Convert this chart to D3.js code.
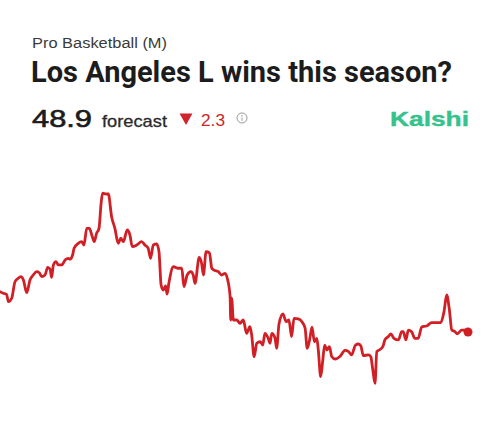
<!DOCTYPE html>
<html>
<head>
<meta charset="utf-8">
<script src="https://cdn.jsdelivr.net/npm/d3@7"></script>
<style>
	body { margin: 0; background: #fff; }
	svg { display: block; }
</style>
</head>
<body>
<svg></svg>
<script>
// forecast history (day index, forecast wins)
var days = [0, 1.1, 2.2, 2.8, 3.9, 5, 6.1, 6.9, 7.8, 8.9, 10, 11.1, 12.2, 13.1, 13.9, 15, 15.9, 16.7, 17.2, 17.8,
	18.7, 19.4, 20.6, 21.7, 22.8, 23.3, 24.2, 24.7, 26.1, 27.2, 28, 28.9, 29.8, 30.6, 31.4, 32.2, 33, 33.7, 34.2, 35.3,
	36.1, 37.2, 38.3, 39.4, 40.3, 41.1, 42.4, 43.3, 44.1, 45.6, 47.2, 48.3, 49.4, 50.2, 51.1, 52.2, 53, 53.7, 54.4, 55.2,
	55.7, 56.3, 57.8, 59.4, 60.6, 61.3, 62.4, 63.6, 64.4, 65, 66.4, 67.2, 67.8, 68.7, 69.8, 70.6, 71.3, 72.8, 73.9, 75,
	75.9, 76.7, 76.9, 77.2, 77.8, 78.9, 80, 81.1, 82.2, 83.3, 83.9, 84.7, 85.6, 86.7, 87.6, 88.3, 89.4, 90, 90.6, 91.7,
	92.2, 93, 94.3, 95.4, 96.3, 97.2, 98, 99.4, 100.7, 101.7, 102.4, 103.2, 104, 104.8, 105.6, 106.1, 106.9, 107.6, 108.2, 109,
	109.8, 110.6, 111.7, 113.3, 115, 116.2, 117.2, 118.5, 119.5, 120.3, 121.1, 122.8, 123.6, 124.2, 125, 125.6, 126.4, 127.6, 128.3, 129.4,
	130.3, 131.3, 132.8, 133.9, 134.4, 135.3, 136.1, 137.2, 138.3, 139.4, 140.6, 142.2, 143.9, 145.6, 146.9, 148, 148.9, 149.8, 150.6, 151.7,
	152.4, 153.9, 155, 156];
var forecast = [51.59, 51.48, 51.41, 50.92, 51.15, 52.25, 52.48, 52.59, 52.37, 51.52, 52.37, 52.70, 52.92, 52.85, 52.59, 52.70, 53.21, 53.08, 52.55, 53.37,
	53.59, 53.37, 53.37, 53.70, 53.81, 53.75, 54.03, 54.48, 54.81, 54.92, 54.70, 55.81, 55.81, 55.37, 54.92, 55.48, 55.81, 57.48, 58.15, 58.10,
	58.10, 56.59, 55.81, 54.81, 55.15, 54.92, 55.70, 55.37, 54.59, 54.70, 54.92, 54.70, 54.48, 53.81, 54.70, 54.77, 54.25, 52.03, 51.70, 51.97,
	51.43, 52.17, 53.25, 53.15, 53.15, 51.92, 52.70, 52.92, 52.70, 52.15, 53.88, 53.48, 52.70, 54.25, 54.19, 53.15, 53.03, 52.92, 52.70, 52.81,
	52.37, 51.25, 49.70, 51.15, 49.70, 49.70, 49.48, 49.70, 48.81, 49.25, 48.70, 47.25, 48.15, 48.25, 48.03, 48.81, 48.48, 48.15, 48.81, 48.48,
	47.81, 49.43, 50.10, 49.59, 49.70, 48.59, 49.81, 49.77, 49.57, 49.15, 47.81, 48.37, 49.23, 48.25, 48.48, 47.70, 45.92, 47.03, 48.03, 47.70,
	47.92, 47.25, 47.10, 47.27, 47.67, 47.59, 47.37, 48.03, 48.10, 47.97, 47.33, 47.37, 47.25, 46.48, 45.48, 47.59, 47.70, 47.92, 48.37, 48.59,
	48.77, 48.48, 48.37, 48.92, 48.92, 48.37, 49.03, 48.92, 48.48, 48.48, 49.25, 49.30, 49.52, 49.52, 49.52, 50.25, 51.37, 50.37, 49.03, 48.92,
	48.77, 49.03, 49.03, 48.90];

var svgWidth = 500, svgHeight = 440;
var lineColor = "#d11f26";

var svg = d3.select("svg")
	.attr("width", svgWidth)
	.attr("height", svgHeight);

setHeader(svg);
setLine(svg);

// header texts above the chart
function setHeader(svg) {
	svg.append("text")
		.attr("x", 32).attr("y", 47.5)
		.attr("font-family", "'Liberation Sans', Arial, sans-serif")
		.attr("font-size", 14)
		.attr("fill", "#3a3a3a")
		.attr("textLength", 135)
		.attr("lengthAdjust", "spacingAndGlyphs")
		.text("Pro Basketball (M)");

	svg.append("text")
		.attr("x", 31).attr("y", 82)
		.attr("font-family", "Roboto, sans-serif")
		.attr("font-weight", "bold")
		.attr("font-size", 30)
		.attr("fill", "#1c1c1c")
		.attr("textLength", 421)
		.attr("lengthAdjust", "spacingAndGlyphs")
		.text("Los Angeles L wins this season?");

	svg.append("text")
		.attr("x", 32).attr("y", 126.5)
		.attr("font-family", "'Liberation Sans', Arial, sans-serif")
		.attr("font-size", 24)
		.attr("fill", "#1c1c1c")
		.attr("stroke", "#1c1c1c")
		.attr("stroke-width", 0.6)
		.attr("textLength", 60)
		.attr("lengthAdjust", "spacingAndGlyphs")
		.text("48.9");

	svg.append("text")
		.attr("x", 102).attr("y", 126.5)
		.attr("font-family", "'Liberation Sans', Arial, sans-serif")
		.attr("font-size", 17)
		.attr("fill", "#2a2a2a")
		.attr("stroke", "#2a2a2a")
		.attr("stroke-width", 0.3)
		.attr("textLength", 65)
		.attr("lengthAdjust", "spacingAndGlyphs")
		.text("forecast");

	// down triangle
	svg.append("path")
		.attr("d", "M179.5,113.5 L192.5,113.5 L186,125 Z")
		.attr("fill", "#d0232b");

	svg.append("text")
		.attr("x", 201).attr("y", 125.5)
		.attr("font-family", "'Liberation Sans', Arial, sans-serif")
		.attr("font-size", 16.5)
		.attr("fill", "#c9262c")
		.attr("textLength", 24)
		.attr("lengthAdjust", "spacingAndGlyphs")
		.text("2.3");

	// info icon
	var info = svg.append("g").attr("transform", "translate(242,118)");
	info.append("circle")
		.attr("r", 5)
		.attr("fill", "none")
		.attr("stroke", "#9a9a9a")
		.attr("stroke-width", 1);
	info.append("line")
		.attr("x1", 0).attr("x2", 0).attr("y1", -0.5).attr("y2", 2.8)
		.attr("stroke", "#9a9a9a").attr("stroke-width", 1);
	info.append("circle")
		.attr("cy", -2.3).attr("r", 0.7)
		.attr("fill", "#9a9a9a");

	svg.append("text")
		.attr("x", 390).attr("y", 126)
		.attr("font-family", "'Liberation Sans', Arial, sans-serif")
		.attr("font-weight", "bold")
		.attr("font-size", 21)
		.attr("fill", "#35c28c")
		.attr("stroke", "#35c28c")
		.attr("stroke-width", 0.4)
		.attr("textLength", 79)
		.attr("lengthAdjust", "spacingAndGlyphs")
		.text("Kalshi");
}

// This function draws the forecast line and end dot
function setLine(svg) {
	var xScale = d3.scaleLinear()
		.domain([0, 156])
		.range([0, 468]);

	var yScale = d3.scaleLinear()
		.domain([44, 59])
		.range([405.5, 180.5]);

	var points = days.map(function(d, i) {
		return [d, forecast[i]];
	});

	var line = d3.line()
		.x(function(d) { return xScale(d[0]); })
		.y(function(d) { return yScale(d[1]); })
		.curve(d3.curveMonotoneX);

	svg.append("path")
		.datum(points)
		.attr("d", line)
		.attr("fill", "none")
		.attr("stroke", lineColor)
		.attr("stroke-width", 2.8)
		.attr("stroke-linejoin", "round")
		.attr("stroke-linecap", "round");

	var last = points[points.length - 1];
	svg.append("circle")
		.attr("cx", xScale(last[0]))
		.attr("cy", yScale(last[1]))
		.attr("r", 4.5)
		.attr("fill", lineColor);
}
</script>
</body>
</html>
